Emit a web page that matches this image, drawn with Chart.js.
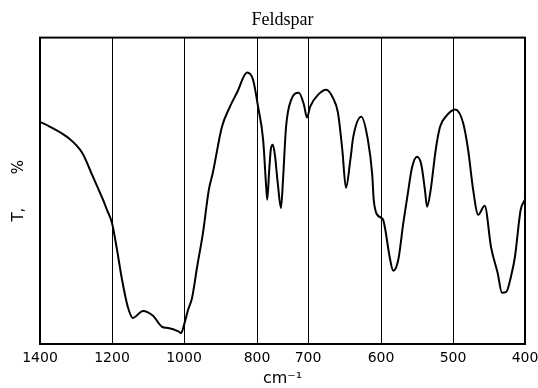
<!DOCTYPE html>
<html>
<head>
  <meta charset="utf-8">
  <title>Feldspar</title>
  <style>
    html, body {
      margin: 0;
      padding: 0;
      background: #fff;
    }
    .chart-container {
      width: 538px;
      height: 388px;
    }
  </style>
</head>
<body>
  <div class="chart-container">
    <canvas id="irChart" width="538" height="388"></canvas>
  </div>

  <script src="https://cdn.jsdelivr.net/npm/chart.js"></script>
  <script>
    // Spectrum: wavenumber (cm-1) and transmission (%)
    const wavenumbers = [
      1400, 1372, 1325, 1283, 1253, 1225, 1214, 1200, 1186, 1172, 1156, 1142,
      1114, 1086, 1061, 1044, 1017, 1008, 1000, 989, 978, 964, 948, 932, 921,
      896, 874, 855, 827, 811, 798, 788, 782, 780, 776, 773, 769, 765, 759,
      753, 749, 743, 733, 718, 708, 702, 697, 686, 675, 666, 659, 653, 648,
      642, 638, 627, 618, 612, 610, 607, 600, 597, 594, 588, 583, 576, 569,
      562, 557, 550, 544, 539, 536, 531, 524, 518, 510, 497, 486, 479, 472,
      465, 456, 447, 438, 432, 426, 419, 414, 406, 400
    ];
    const transmission = [
      72.5, 70.9, 67.6, 62.4, 54.6, 47.1, 43.8, 39.5, 30.7, 20.9, 12.1, 8.5,
      10.8, 9.2, 5.6, 5.2, 4.2, 3.6, 6.2, 11.1, 15.0, 25.2, 36.3, 50.3, 55.9,
      70.9, 77.5, 82.0, 88.6, 86.3, 77.5, 66.7, 51.3, 47.1, 56.9, 63.4, 65.0, 61.8, 52.0,
      44.4, 53.6, 70.9, 79.7, 82.0, 78.1, 73.9, 77.5, 81.4, 83.0, 80.4, 75.5, 63.4, 51.0,
      60.1, 67.6, 74.2, 66.7, 55.2, 47.1, 43.1, 41.2, 40.5, 37.3, 28.4, 23.9, 27.5, 39.5,
      50.3, 57.5, 61.1, 58.5, 50.3, 44.8, 50.3, 63.4, 70.9, 74.2, 76.5, 72.2, 63.4, 50.3,
      42.2, 45.1, 31.4, 23.2, 16.7, 17.0, 22.5, 28.4, 43.8, 47.1
    ];
    const tickLabels = [1400, 1200, 1000, 800, 700, 600, 500, 400];

    // the printed axis is not uniform: the 800-700 step is narrower
    const axisStops = [0, 72, 144, 217, 268, 341, 413, 485];

    function toAxis(wn) {
      for (let i = 0; i < tickLabels.length - 1; i++) {
        const a = tickLabels[i], b = tickLabels[i + 1];
        if (wn <= a && wn >= b) {
          return axisStops[i] + (a - wn) / (a - b) * (axisStops[i + 1] - axisStops[i]);
        }
      }
      return wn > tickLabels[0] ? 0 : axisStops[axisStops.length - 1];
    }

    // box around the plot area
    const framePlugin = {
      id: 'frame',
      beforeDatasetsDraw(chart) {
        const { ctx, chartArea: a } = chart;
        ctx.save();
        ctx.strokeStyle = '#000';
        ctx.lineWidth = 2;
        ctx.strokeRect(a.left, a.top, a.right - a.left, a.bottom - a.top);
        ctx.restore();
      }
    };

    const ctx = document.getElementById('irChart').getContext('2d');
    const irChart = new Chart(ctx, {
      type: 'line',
      data: {
        datasets: [{
          label: 'Feldspar',
          data: wavenumbers.map((w, i) => ({ x: toAxis(w), y: transmission[i] })),
          borderColor: '#000',
          borderWidth: 2,
          pointRadius: 0,
          cubicInterpolationMode: 'monotone',
          fill: false
        }]
      },
      options: {
        responsive: true,
        maintainAspectRatio: false,
        animation: false,
        layout: { padding: { left: 0, right: 13, top: 0, bottom: 0 } },
        plugins: {
          legend: { display: false },
          tooltip: { enabled: false },
          title: {
            display: true,
            text: 'Feldspar',
            fullSize: false,
            color: '#000',
            font: { family: 'Liberation Serif', size: 18, weight: 'normal' },
            padding: { top: 9, bottom: 7 }
          }
        },
        scales: {
          x: {
            type: 'linear',
            min: 0,
            max: axisStops[axisStops.length - 1],
            afterBuildTicks: (axis) => {
              axis.ticks = axisStops.map(v => ({ value: v }));
            },
            afterFit: (scale) => {
              scale.height = 44;
              scale.paddingLeft = 0;
              scale.paddingRight = 0;
            },
            ticks: {
              autoSkip: false,
              maxRotation: 0,
              padding: 6,
              color: '#000',
              font: { family: 'DejaVu Sans', size: 14 },
              callback: (value, index) => tickLabels[index]
            },
            grid: { color: '#000', lineWidth: 1, drawTicks: false },
            border: { display: false },
            title: {
              display: true,
              text: 'cm\u207B\u00B9',
              color: '#000',
              font: { family: 'DejaVu Sans', size: 16 },
              padding: { top: 0, bottom: 0 }
            }
          },
          y: {
            min: 0,
            max: 100,
            afterFit: (scale) => { scale.width = 40; },
            ticks: { display: false },
            grid: { display: false },
            border: { display: false },
            title: {
              display: true,
              text: 'T,       %',
              color: '#000',
              font: { family: 'DejaVu Sans', size: 15 },
              padding: { top: 10, bottom: 0 }
            }
          }
        }
      },
      plugins: [framePlugin]
    });
  </script>
</body>
</html>
